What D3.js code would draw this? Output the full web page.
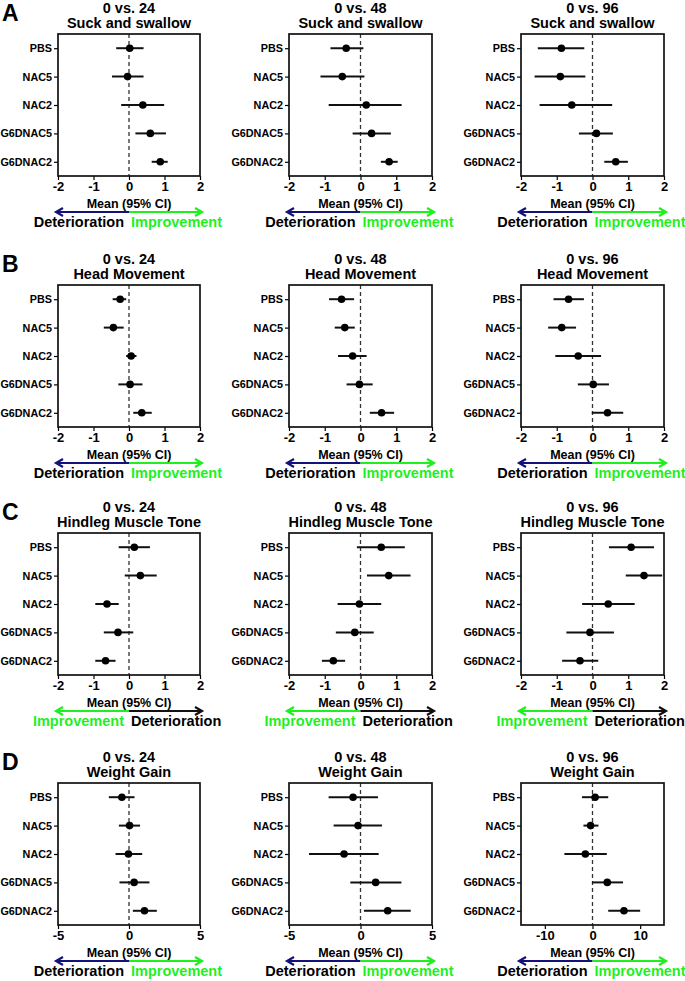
<!DOCTYPE html>
<html><head><meta charset="utf-8">
<script src="https://cdn.jsdelivr.net/npm/d3@7"></script>
<style>
html,body{margin:0;padding:0;background:#fff;}
svg{display:block;font-family:"Liberation Sans",Arial,sans-serif;font-weight:bold;}
</style></head>
<body>
<svg id="chart" width="685" height="981"></svg>
<script>
// ---------- data ----------
const categories = ["PBS", "NAC5", "NAC2", "G6DNAC5", "G6DNAC2"];
const timepoints = ["0 vs. 24", "0 vs. 48", "0 vs. 96"];
const outcomes = ["Suck and swallow", "Head Movement", "Hindleg Muscle Tone", "Weight Gain"];
const panelLetters = ["A", "B", "C", "D"];
const xLabel = "Mean (95% CI)";

// [mean, lower CI, upper CI] per category
const suck24 = [[0.02, -0.36, 0.41], [-0.04, -0.48, 0.41], [0.39, -0.22, 0.99], [0.60, 0.18, 1.04], [0.88, 0.64, 1.09]];
const suck48 = [[-0.40, -0.84, 0.08], [-0.51, -1.12, 0.11], [0.16, -0.89, 1.15], [0.31, -0.22, 0.85], [0.80, 0.57, 1.04]];
const suck96 = [[-0.87, -1.53, -0.23], [-0.90, -1.62, -0.20], [-0.58, -1.48, 0.55], [0.11, -0.38, 0.57], [0.65, 0.33, 0.99]];
const head24 = [[-0.25, -0.46, -0.08], [-0.44, -0.71, -0.15], [0.06, -0.08, 0.21], [0.03, -0.30, 0.38], [0.36, 0.12, 0.64]];
const head48 = [[-0.53, -0.88, -0.18], [-0.44, -0.72, -0.16], [-0.22, -0.63, 0.17], [-0.03, -0.39, 0.34], [0.59, 0.26, 0.94]];
const head96 = [[-0.67, -1.09, -0.24], [-0.86, -1.24, -0.46], [-0.40, -1.04, 0.24], [0.02, -0.41, 0.46], [0.42, -0.02, 0.86]];
const hind24 = [[0.15, -0.29, 0.59], [0.32, -0.12, 0.78], [-0.62, -0.95, -0.29], [-0.31, -0.71, 0.12], [-0.66, -0.95, -0.38]];
const hind48 = [[0.58, -0.10, 1.24], [0.79, 0.18, 1.40], [-0.03, -0.64, 0.58], [-0.16, -0.69, 0.37], [-0.76, -1.08, -0.43]];
const hind96 = [[1.08, 0.46, 1.72], [1.44, 0.93, 1.95], [0.44, -0.29, 1.18], [-0.07, -0.73, 0.60], [-0.35, -0.85, 0.16]];
const weight24 = [[-0.50, -1.42, 0.39], [0.04, -0.71, 0.78], [-0.04, -0.95, 0.93], [0.36, -0.67, 1.44], [1.09, 0.27, 1.96]];
const weight48 = [[-0.52, -2.23, 1.22], [-0.17, -1.88, 1.50], [-1.15, -3.60, 1.27], [1.06, -0.71, 2.86], [1.90, 0.24, 3.51]];
const weight96 = [[0.55, -2.2, 3.3], [-0.4, -1.9, 1.25], [-1.5, -5.9, 3.0], [3.1, -0.1, 6.4], [6.6, 3.3, 10.0]];

const scoreTicks = [-2, -1, 0, 1, 2];
const weightTicks = [-5, 0, 5];
const weightTicks96 = [-10, 0, 10];
const scoreDomain = [-2, 2];
const weightDomain = [-5, 5];
const weightDomain96 = [-15, 15];

const panelData = [
  [suck24, suck48, suck96],
  [head24, head48, head96],
  [hind24, hind48, hind96],
  [weight24, weight48, weight96]
];
const panelDomains = [
  [scoreDomain, scoreDomain, scoreDomain],
  [scoreDomain, scoreDomain, scoreDomain],
  [scoreDomain, scoreDomain, scoreDomain],
  [weightDomain, weightDomain, weightDomain96]
];
const panelTicks = [
  [scoreTicks, scoreTicks, scoreTicks],
  [scoreTicks, scoreTicks, scoreTicks],
  [scoreTicks, scoreTicks, scoreTicks],
  [weightTicks, weightTicks, weightTicks96]
];
// direction labels: left / right of zero
const directionLeft = ["Deterioration", "Deterioration", "Improvement", "Deterioration"];
const directionRight = ["Improvement", "Improvement", "Deterioration", "Improvement"];

// ---------- layout / style ----------
const colX = [[58, 200], [289, 432], [521, 664]];
const rowTop = [34, 285, 533, 783];
const boxH = 142;
const NAVY = "#12127a";
const GREEN = "#1ef01e";
const BLACK = "#111";

const svg = d3.select("#chart");

function arrowHead(g, x, y, dir, color) {
  g.append("path")
    .attr("d", `M${x - dir * 7},${y - 4} L${x},${y} L${x - dir * 7},${y + 4}`)
    .attr("fill", "none").attr("stroke", color).attr("stroke-width", 2.2)
    .attr("stroke-linejoin", "miter");
}

for (let r = 0; r < 4; r++) {
  const top = rowTop[r], bottom = top + boxH;
  svg.append("text").attr("x", 2).attr("y", top - 13)
    .attr("font-size", 23).attr("fill", "#000").text(panelLetters[r]);

  for (let c = 0; c < 3; c++) {
    const [x0, x1] = colX[c];
    const g = svg.append("g");
    const x = d3.scaleLinear().domain(panelDomains[r][c]).range([x0, x1]);
    const y = d3.scalePoint().domain(categories).range([top, bottom]).padding(0.5);
    const data = panelData[r][c];
    const cx = (x0 + x1) / 2;

    g.append("text").attr("x", cx).attr("y", top - 21).attr("text-anchor", "middle")
      .attr("font-size", 14.5).text(timepoints[c]);
    g.append("text").attr("x", cx).attr("y", top - 6).attr("text-anchor", "middle")
      .attr("font-size", 14.5).text(outcomes[r]);

    g.append("line").attr("x1", x(0)).attr("x2", x(0)).attr("y1", top).attr("y2", bottom)
      .attr("stroke", "#333").attr("stroke-width", 1.3).attr("stroke-dasharray", "4,3");

    const yAxis = g.append("g").attr("transform", `translate(${x0},0)`)
      .call(d3.axisLeft(y).tickSize(4).tickPadding(2));
    yAxis.select(".domain").remove();
    yAxis.selectAll(".tick line").attr("stroke", "#000").attr("stroke-width", 1.2);
    yAxis.selectAll(".tick text").attr("font-size", 10.8).attr("font-weight", "bold")
      .attr("font-family", "Liberation Sans, Arial, sans-serif").attr("fill", "#000");

    const xAxis = g.append("g").attr("transform", `translate(0,${bottom})`)
      .call(d3.axisBottom(x).tickValues(panelTicks[r][c]).tickSize(4).tickPadding(2)
        .tickFormat(d3.format("d")));
    xAxis.select(".domain").remove();
    xAxis.selectAll(".tick line").attr("stroke", "#000").attr("stroke-width", 1.2);
    xAxis.selectAll(".tick text").attr("font-size", 13).attr("font-weight", "bold")
      .attr("font-family", "Liberation Sans, Arial, sans-serif").attr("fill", "#000")
      .text(d => d < 0 ? "-" + Math.abs(d) : d);

    g.append("rect").attr("x", x0).attr("y", top).attr("width", x1 - x0).attr("height", boxH)
      .attr("fill", "none").attr("stroke", "#111").attr("stroke-width", 1.7);

    g.selectAll("line.ci").data(data).enter().append("line").attr("class", "ci")
      .attr("x1", d => x(d[1])).attr("x2", d => x(d[2]))
      .attr("y1", (d, i) => y(categories[i])).attr("y2", (d, i) => y(categories[i]))
      .attr("stroke", BLACK).attr("stroke-width", 2);
    g.selectAll("circle.pt").data(data).enter().append("circle").attr("class", "pt")
      .attr("cx", d => x(d[0])).attr("cy", (d, i) => y(categories[i])).attr("r", 3.8)
      .attr("fill", "#000");

    g.append("text").attr("x", cx).attr("y", bottom + 32).attr("text-anchor", "middle")
      .attr("font-size", 12.5).text(xLabel);

    const ay = bottom + 36;
    const z = x(0);
    const leftColor = directionLeft[r] === "Deterioration" ? NAVY : GREEN;
    const rightColor = directionRight[r] === "Improvement" ? GREEN : BLACK;
    g.append("line").attr("x1", x0 - 2).attr("x2", z).attr("y1", ay).attr("y2", ay)
      .attr("stroke", leftColor).attr("stroke-width", 2.2);
    g.append("line").attr("x1", z).attr("x2", x1 + 2).attr("y1", ay).attr("y2", ay)
      .attr("stroke", rightColor).attr("stroke-width", 2.2);
    arrowHead(g, x0 - 2, ay, -1, leftColor);
    arrowHead(g, x1 + 2, ay, 1, rightColor);

    const leftTextColor = directionLeft[r] === "Improvement" ? GREEN : "#000";
    const rightTextColor = directionRight[r] === "Improvement" ? GREEN : "#000";
    g.append("text").attr("x", z - 5).attr("y", bottom + 51).attr("text-anchor", "end")
      .attr("font-size", 14.5).attr("fill", leftTextColor).text(directionLeft[r]);
    g.append("text").attr("x", z + 2).attr("y", bottom + 51).attr("text-anchor", "start")
      .attr("font-size", 14.5).attr("fill", rightTextColor).text(directionRight[r]);
  }
}
</script>
</body></html>
